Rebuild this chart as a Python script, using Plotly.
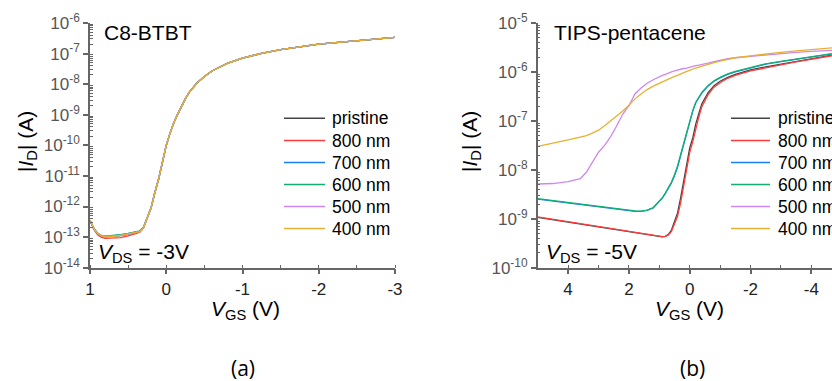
import plotly.graph_objects as go

W, H = 832, 381

# ---------------- data ----------------
series_names = ["pristine", "800 nm", "700 nm", "600 nm", "500 nm", "400 nm"]
series_colors = ["#444444", "#ff3b3b", "#1a7ff0", "#12b070", "#cc88ee", "#e8b030"]

# (a) C8-BTBT, V_DS = -3 V : V_GS (V) and log10(|I_D| / A)
vgs_a = [1.0, 0.95, 0.9, 0.85, 0.8, 0.7, 0.6, 0.5, 0.4, 0.35, 0.3, 0.25, 0.2, 0.15,
         0.1, 0.05, 0.0, -0.05, -0.1, -0.15, -0.2, -0.25, -0.3, -0.35, -0.4, -0.5,
         -0.6, -0.8, -1.0, -1.25, -1.5, -2.0, -2.5, -3.0]
a_pristine = [-12.46, -12.73, -12.89, -12.96, -12.99, -12.98, -12.95, -12.91, -12.87, -12.83, -12.70, -12.40, -12.05, -11.55,
              -11.10, -10.55, -10.00, -9.60, -9.25, -8.98, -8.72, -8.48, -8.27, -8.10, -7.97, -7.75,
              -7.57, -7.32, -7.15, -6.99, -6.87, -6.69, -6.57, -6.47]
a_800 = [-12.44, -12.75, -12.92, -13.01, -13.04, -13.04, -13.02, -12.96, -12.90, -12.85, -12.71, -12.41, -12.05, -11.55,
         -11.10, -10.55, -10.00, -9.60, -9.25, -8.98, -8.72, -8.48, -8.27, -8.10, -7.97, -7.75,
         -7.57, -7.32, -7.15, -6.99, -6.87, -6.69, -6.57, -6.47]
a_700 = [-12.45, -12.72, -12.88, -12.95, -12.98, -12.96, -12.93, -12.89, -12.85, -12.81, -12.69, -12.40, -12.05, -11.55,
         -11.10, -10.55, -10.00, -9.60, -9.25, -8.98, -8.72, -8.48, -8.27, -8.10, -7.97, -7.75,
         -7.57, -7.32, -7.15, -6.99, -6.87, -6.69, -6.57, -6.47]
a_600 = [-12.45, -12.71, -12.87, -12.95, -12.97, -12.95, -12.92, -12.88, -12.84, -12.80, -12.68, -12.39, -12.05, -11.55,
         -11.10, -10.55, -10.00, -9.60, -9.25, -8.98, -8.72, -8.48, -8.27, -8.10, -7.97, -7.75,
         -7.57, -7.32, -7.15, -6.99, -6.87, -6.69, -6.57, -6.47]
a_500 = [-12.46, -12.72, -12.88, -12.95, -12.98, -12.97, -12.94, -12.90, -12.86, -12.82, -12.70, -12.40, -12.05, -11.55,
         -11.10, -10.55, -10.00, -9.60, -9.25, -8.98, -8.72, -8.48, -8.27, -8.10, -7.97, -7.75,
         -7.57, -7.32, -7.15, -6.99, -6.87, -6.69, -6.57, -6.47]
a_400 = [-12.45, -12.72, -12.88, -12.96, -12.99, -12.98, -12.94, -12.90, -12.86, -12.82, -12.70, -12.40, -12.05, -11.55,
         -11.10, -10.55, -10.00, -9.60, -9.25, -8.98, -8.72, -8.48, -8.27, -8.10, -7.97, -7.75,
         -7.57, -7.32, -7.15, -6.99, -6.87, -6.69, -6.57, -6.47]

# (b) TIPS-pentacene, V_DS = -5 V : V_GS (V) and log10(|I_D| / A)
vgs_b = [5.0, 4.5, 4.0, 3.6, 3.4, 3.2, 3.0, 2.8, 2.6, 2.4, 2.2, 2.0, 1.8, 1.6, 1.4, 1.2,
         1.0, 0.9, 0.8, 0.7, 0.6, 0.5, 0.4, 0.3, 0.2, 0.1, 0.0, -0.1, -0.2, -0.3, -0.4,
         -0.6, -0.8, -1.0, -1.25, -1.5, -2.0, -2.5, -3.0, -3.5, -4.0, -4.5, -5.0]
b_pristine = [-8.97, -9.02, -9.07, -9.11, -9.13, -9.145, -9.165, -9.185, -9.205, -9.225, -9.245, -9.26, -9.28, -9.30, -9.32, -9.34,
              -9.36, -9.37, -9.36, -9.32, -9.23, -9.06, -8.88, -8.58, -8.23, -7.86, -7.55, -7.35, -7.06, -6.85, -6.65,
              -6.43, -6.28, -6.19, -6.11, -6.05, -5.96, -5.895, -5.84, -5.78, -5.72, -5.67, -5.62]
b_800 = [-8.96, -9.01, -9.06, -9.10, -9.12, -9.14, -9.16, -9.18, -9.20, -9.22, -9.24, -9.255, -9.275, -9.295, -9.315, -9.335,
         -9.355, -9.365, -9.36, -9.33, -9.26, -9.12, -8.95, -8.68, -8.33, -7.96, -7.65, -7.43, -7.15, -6.92, -6.71,
         -6.47, -6.31, -6.22, -6.13, -6.07, -5.98, -5.91, -5.855, -5.795, -5.735, -5.68, -5.635]
b_700 = [-8.60, -8.64, -8.68, -8.71, -8.72, -8.74, -8.75, -8.77, -8.78, -8.80, -8.82, -8.83, -8.85, -8.85, -8.83, -8.78,
         -8.66, -8.58, -8.48, -8.38, -8.27, -8.12, -7.95, -7.72, -7.48, -7.25, -7.00, -6.80, -6.63, -6.52, -6.43,
         -6.29, -6.19, -6.12, -6.05, -6.00, -5.92, -5.84, -5.79, -5.74, -5.69, -5.64, -5.60]
b_600 = [-8.59, -8.63, -8.67, -8.70, -8.715, -8.73, -8.745, -8.76, -8.775, -8.79, -8.81, -8.825, -8.84, -8.845, -8.825, -8.77,
         -8.65, -8.57, -8.47, -8.36, -8.25, -8.10, -7.92, -7.69, -7.45, -7.22, -6.98, -6.79, -6.62, -6.51, -6.42,
         -6.28, -6.18, -6.11, -6.04, -5.99, -5.91, -5.835, -5.785, -5.735, -5.685, -5.635, -5.595]
b_500 = [-8.29, -8.28, -8.24, -8.18, -8.05, -7.83, -7.64, -7.50, -7.32, -7.10, -6.86, -6.69, -6.45, -6.33, -6.23, -6.16,
         -6.09, -6.07, -6.05, -6.02, -6.00, -5.98, -5.96, -5.95, -5.93, -5.92, -5.90, -5.89, -5.87, -5.86, -5.85,
         -5.82, -5.79, -5.76, -5.73, -5.71, -5.68, -5.65, -5.62, -5.60, -5.58, -5.56, -5.55]
b_400 = [-7.52, -7.46, -7.39, -7.33, -7.30, -7.25, -7.19, -7.10, -7.00, -6.90, -6.80, -6.68, -6.55, -6.45, -6.36, -6.29,
         -6.23, -6.20, -6.17, -6.14, -6.12, -6.09, -6.07, -6.04, -6.02, -5.99, -5.97, -5.94, -5.92, -5.90, -5.88,
         -5.84, -5.81, -5.78, -5.74, -5.71, -5.67, -5.63, -5.60, -5.57, -5.54, -5.51, -5.49]

series_a = [a_pristine, a_800, a_700, a_600, a_500, a_400]
series_b = [b_pristine, b_800, b_700, b_600, b_500, b_400]

xticks_a = [1, 0, -1, -2, -3]
xticks_b = [4, 2, 0, -2, -4]
ydecades_a = list(range(-14, -5))
ydecades_b = list(range(-10, -4))

# ---------------- figure ----------------
FONT = "Liberation Sans, Arial, sans-serif"
AX = "#666666"

def px(x):
    return x / W

def py(y):
    return 1 - y / H

fig = go.Figure()
for name, col, ys in zip(series_names, series_colors, series_a):
    fig.add_trace(go.Scatter(x=vgs_a, y=[10 ** v for v in ys], mode="lines", name=name,
                             line=dict(color=col, width=1.3), xaxis="x", yaxis="y",
                             showlegend=False))
for name, col, ys in zip(series_names, series_colors, series_b):
    fig.add_trace(go.Scatter(x=vgs_b, y=[10 ** v for v in ys], mode="lines", name=name,
                             line=dict(color=col, width=1.3), xaxis="x2", yaxis="y2",
                             showlegend=False))

ydom = [py(267.7), py(23)]

def xaxis(domain, rng, ticks, minor_dtick, anchor):
    return dict(domain=domain, range=rng, anchor=anchor, showgrid=False, zeroline=False,
                showline=True, linecolor=AX, linewidth=1.5,
                ticks="outside", ticklen=5, tickwidth=1.5, tickcolor=AX,
                tickmode="array", tickvals=ticks, ticktext=[str(t) for t in ticks],
                tickfont=dict(family=FONT, size=17, color="#222222"),
                minor=dict(ticks="inside", ticklen=3, tickwidth=1, tickcolor=AX, dtick=minor_dtick,
                           showgrid=False))

def yaxis(decs, anchor):
    return dict(domain=ydom, type="log", range=[decs[0], decs[-1]], anchor=anchor,
                showgrid=False, zeroline=False, showline=True, linecolor=AX, linewidth=1.5,
                ticks="outside", ticklen=5, tickwidth=1.5, tickcolor=AX,
                tickmode="array", tickvals=[10 ** d for d in decs],
                ticktext=["10<sup>%d</sup>" % d for d in decs],
                tickfont=dict(family=FONT, size=17, color="#555555"),
                minor=dict(ticks="inside", ticklen=3, tickwidth=1, tickcolor=AX,
                           tickmode="array",
                           tickvals=[k * 10 ** d for d in decs[:-1] for k in range(2, 10)],
                           showgrid=False))

fig.update_layout(
    width=W, height=381,
    margin=dict(l=0, r=0, t=0, b=0, autoexpand=False),
    paper_bgcolor="white", plot_bgcolor="white",
    showlegend=False,
    xaxis=xaxis([px(90), px(395)], [1, -3], xticks_a, 0.5, "y"),
    yaxis=yaxis(ydecades_a, "x"),
    xaxis2=xaxis([px(537.7), 1.0], [5, 5 - (832 - 537.7) / 30.4], xticks_b, 1, "y2"),
    yaxis2=yaxis(ydecades_b, "x2"),
)

ann = []
def text(x, y, s, size=21, xanchor="left", yanchor="middle", angle=0, family=FONT, color="black"):
    ann.append(dict(x=px(x), y=py(y), xref="paper", yref="paper", text=s, showarrow=False,
                    xanchor=xanchor, yanchor=yanchor, textangle=angle,
                    font=dict(family=family, size=size, color=color)))

# panel titles
text(102, 32, "C8-BTBT", 21)
text(552, 32, "TIPS-pentacene", 21)
# V_DS labels
text(96, 253, "<i>V</i><sub>DS</sub> = -3V", 21)
text(544, 253, "<i>V</i><sub>DS</sub> = -5V", 21)
# axis titles
text(27, 142, "|<i>I</i><sub>D</sub>| (A)", 21, xanchor="center", angle=-90)
text(471, 142, "|<i>I</i><sub>D</sub>| (A)", 21, xanchor="center", angle=-90)
text(245, 310, "<i>V</i><sub>GS</sub> (V)", 21, xanchor="center")
text(689, 310, "<i>V</i><sub>GS</sub> (V)", 21, xanchor="center")
# sub-figure labels
text(243, 368, "(a)", 21, xanchor="center", family="Open Sans, sans-serif")
text(692, 368, "(b)", 21, xanchor="center", family="Open Sans, sans-serif")

# legends (drawn manually to match row spacing)
rows = [118.3, 140.5, 162.5, 184.5, 206.5, 228.5]
shapes = []
for (lx0, lx1, tx) in [(284, 325, 330), (731, 770, 776)]:
    for name, col, ry in zip(series_names, series_colors, rows):
        shapes.append(dict(type="line", xref="paper", yref="paper",
                           x0=px(lx0), x1=px(lx1), y0=py(ry), y1=py(ry),
                           line=dict(color=col, width=1.5)))
        text(tx, ry, name, 17.5)

fig.update_layout(annotations=ann, shapes=shapes)
fig.write_html("out.html")
